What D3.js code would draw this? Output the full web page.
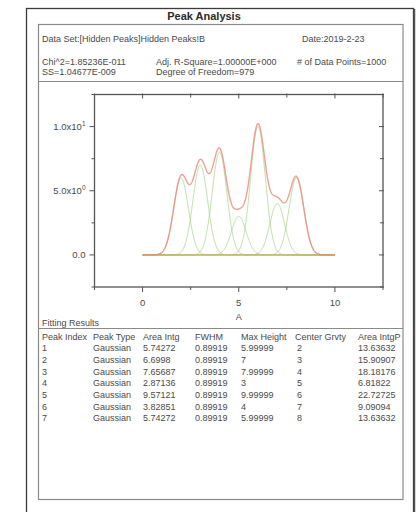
<!DOCTYPE html>
<html>
<head>
<meta charset="utf-8">
<script src="https://cdn.jsdelivr.net/npm/d3@7"></script>
<style>
  html, body { margin: 0; padding: 0; background: #fff; }
  svg { display: block; }
  text { font-family: "Liberation Sans", Arial, sans-serif; fill: #4a4a4a; }
</style>
</head>
<body>
<svg id="chart" width="417" height="512"></svg>
<script>
// Fitted peak parameters (one entry per Gaussian peak)
const peakIndex   = ["1", "2", "3", "4", "5", "6", "7"];
const peakType    = ["Gaussian", "Gaussian", "Gaussian", "Gaussian", "Gaussian", "Gaussian", "Gaussian"];
const areaIntg    = ["5.74272", "6.6998", "7.65687", "2.87136", "9.57121", "3.82851", "5.74272"];
const fwhm        = [0.89919, 0.89919, 0.89919, 0.89919, 0.89919, 0.89919, 0.89919];
const maxHeight   = [5.99999, 7, 7.99999, 3, 9.99999, 4, 5.99999];
const maxHeightLabels = ["5.99999", "7", "7.99999", "3", "9.99999", "4", "5.99999"];
const centers     = [2, 3, 4, 5, 6, 7, 8];
const areaIntgP   = ["13.63632", "15.90907", "18.18176", "6.81822", "22.72725", "9.09094", "13.63632"];

// Axis ticks
const xTicks = [-2.5, 0, 2.5, 5, 7.5, 10, 12.5];
const xTickLabels = { "0": "0", "5": "5", "10": "10" };
const yTicks = [-2.5, 0, 2.5, 5, 7.5, 10, 12.5];
const yTickLabels = [
  { v: 10, base: "1.0x10", sup: "1" },
  { v: 5,  base: "5.0x10", sup: "0" },
  { v: 0,  base: "0.0",    sup: "" }
];

// Report header text
const reportTitle = "Peak Analysis";
const headerLines = [
  { x: 42,  y: 41.5, t: "Data Set:[Hidden Peaks]Hidden Peaks!B" },
  { x: 302, y: 41.5, t: "Date:2019-2-23" },
  { x: 42,  y: 64.5, t: "Chi^2=1.85236E-011" },
  { x: 156, y: 64.5, t: "Adj. R-Square=1.00000E+000" },
  { x: 297, y: 64.5, t: "# of Data Points=1000" },
  { x: 42,  y: 74.5, t: "SS=1.04677E-009" },
  { x: 156, y: 74.5, t: "Degree of Freedom=979" }
];
const tableHeaders = ["Peak Index", "Peak Type", "Area Intg", "FWHM", "Max Height", "Center Grvty", "Area IntgP"];
const xRange = [0, 10];
const nPoints = 1000;

const fs = "9px";
const svg = d3.select("#chart");

// Page frames
svg.append("rect").attr("x", 26.5).attr("y", 8.5).attr("width", 387).attr("height", 520)
  .attr("fill", "none").attr("stroke", "#3c3c3c").attr("stroke-width", 1.3);
svg.append("line").attr("x1", 414.5).attr("x2", 414.5).attr("y1", 9).attr("y2", 512)
  .attr("stroke", "#555").attr("stroke-width", 1.5);
svg.append("rect").attr("x", 38.5).attr("y", 24.5).attr("width", 364.5).attr("height", 475)
  .attr("fill", "none").attr("stroke", "#8a8a8a").attr("stroke-width", 1.2);
svg.append("line").attr("x1", 38.5).attr("x2", 403).attr("y1", 81.5).attr("y2", 81.5)
  .attr("stroke", "#8a8a8a").attr("stroke-width", 1.2);
svg.append("line").attr("x1", 38.5).attr("x2", 403).attr("y1", 328.5).attr("y2", 328.5)
  .attr("stroke", "#8a8a8a").attr("stroke-width", 1.2);

svg.append("text").attr("x", 204).attr("y", 20).attr("text-anchor", "middle")
  .style("font-size", "11px").style("font-weight", "bold").style("fill", "#2a2a2a")
  .text(reportTitle);

svg.selectAll("text.hdr").data(headerLines).join("text").attr("class", "hdr")
  .attr("x", d => d.x).attr("y", d => d.y).style("font-size", fs).text(d => d.t);

// Plot area
const plot = { left: 94.5, right: 383, top: 94.5, bottom: 287 };
const x = d3.scaleLinear().domain([-2.5, 12.5]).range([plot.left, plot.right]);
const y = d3.scaleLinear().domain([-2.5, 12.5]).range([plot.bottom, plot.top]);

const axisColor = "#555";
const g = svg.append("g");

// Curves: individual Gaussians from the fitted parameters, and their sum
const xs = d3.range(nPoints).map(i => xRange[0] + (xRange[1] - xRange[0]) * i / (nPoints - 1));
const gauss = (xv, c, h, w) => {
  const s = w / (2 * Math.sqrt(2 * Math.LN2));
  return h * Math.exp(-((xv - c) ** 2) / (2 * s * s));
};
const peaks = centers.map((c, i) => xs.map(xv => [xv, gauss(xv, c, maxHeight[i], fwhm[i])]));
const total = xs.map((xv, k) => [xv, d3.sum(peaks, p => p[k][1])]);

const line = d3.line().x(d => x(d[0])).y(d => y(d[1]));

g.selectAll("path.peak").data(peaks).join("path").attr("class", "peak")
  .attr("d", line).attr("fill", "none")
  .attr("stroke", "#94cc6c").attr("stroke-width", 1).attr("stroke-opacity", 0.6);
// Fit baseline (y = 0 across the data range)
g.append("line").attr("x1", x(xRange[0])).attr("x2", x(xRange[1]))
  .attr("y1", y(0)).attr("y2", y(0))
  .attr("stroke", "#e4b070").attr("stroke-width", 1.4).attr("stroke-opacity", 0.8);
g.append("path").datum(total).attr("d", line).attr("fill", "none")
  .attr("stroke", "#ea8276").attr("stroke-width", 1.4).attr("stroke-opacity", 0.75);

// Frame
g.append("rect").attr("x", plot.left).attr("y", plot.top)
  .attr("width", plot.right - plot.left).attr("height", plot.bottom - plot.top)
  .attr("fill", "none").attr("stroke", axisColor).attr("stroke-width", 1.3);

// Ticks: outward on bottom/left, inward on top/right
const isMajor = v => Math.abs(v % 5) < 1e-9;
g.selectAll("line.xb").data(xTicks).join("line").attr("class", "xb")
  .attr("x1", d => x(d)).attr("x2", d => x(d))
  .attr("y1", plot.bottom).attr("y2", d => plot.bottom + (isMajor(d) ? 5 : 3))
  .attr("stroke", axisColor).attr("stroke-width", 1);
g.selectAll("line.xt").data(xTicks).join("line").attr("class", "xt")
  .attr("x1", d => x(d)).attr("x2", d => x(d))
  .attr("y1", plot.top - 1).attr("y2", d => plot.top + (isMajor(d) ? 4 : 3))
  .attr("stroke", axisColor).attr("stroke-width", 1);
g.selectAll("line.yl").data(yTicks).join("line").attr("class", "yl")
  .attr("y1", d => y(d)).attr("y2", d => y(d))
  .attr("x1", plot.left).attr("x2", d => plot.left - (isMajor(d) ? 5 : 3))
  .attr("stroke", axisColor).attr("stroke-width", 1);
g.selectAll("line.yr").data(yTicks).join("line").attr("class", "yr")
  .attr("y1", d => y(d)).attr("y2", d => y(d))
  .attr("x1", plot.right + 1).attr("x2", d => plot.right - (isMajor(d) ? 4 : 3))
  .attr("stroke", axisColor).attr("stroke-width", 1);

// Tick labels
g.selectAll("text.xl").data(Object.keys(xTickLabels)).join("text").attr("class", "xl")
  .attr("x", d => x(+d)).attr("y", 305.5).attr("text-anchor", "middle")
  .style("font-size", "9.5px").text(d => xTickLabels[d]);
const yl = g.selectAll("text.ylab").data(yTickLabels).join("text").attr("class", "ylab")
  .attr("x", plot.left - 9).attr("y", d => y(d.v) + 3.4).attr("text-anchor", "end")
  .style("font-size", "9.5px");
yl.append("tspan").text(d => d.base);
yl.append("tspan").attr("dy", -3.8).style("font-size", "6.5px").text(d => d.sup);

g.append("text").attr("x", x(5)).attr("y", 319.5).attr("text-anchor", "middle")
  .style("font-size", "9px").text("A");

// Fitting results table
svg.append("text").attr("x", 42).attr("y", 325.5).style("font-size", fs).text("Fitting Results");
const colX = [42, 93, 143, 195, 241, 295, 358];
const rowY0 = 339.5, rowH = 11.67;
svg.selectAll("text.th").data(tableHeaders).join("text").attr("class", "th")
  .attr("x", (d, i) => colX[i]).attr("y", rowY0).style("font-size", fs).text(d => d);

const rows = peakIndex.map((p, i) => [
  p, peakType[i], areaIntg[i], fwhm[i].toFixed(5), maxHeightLabels[i], String(centers[i]), areaIntgP[i]
]);
const rowG = svg.selectAll("g.row").data(rows).join("g").attr("class", "row")
  .attr("transform", (d, i) => `translate(0,${rowY0 + rowH * (i + 1)})`);
rowG.selectAll("text").data(d => d).join("text")
  .attr("x", (d, i) => i === 5 ? colX[i] + 2 : colX[i]).attr("y", 0)
  .style("font-size", fs).text(d => d);
</script>
</body>
</html>
